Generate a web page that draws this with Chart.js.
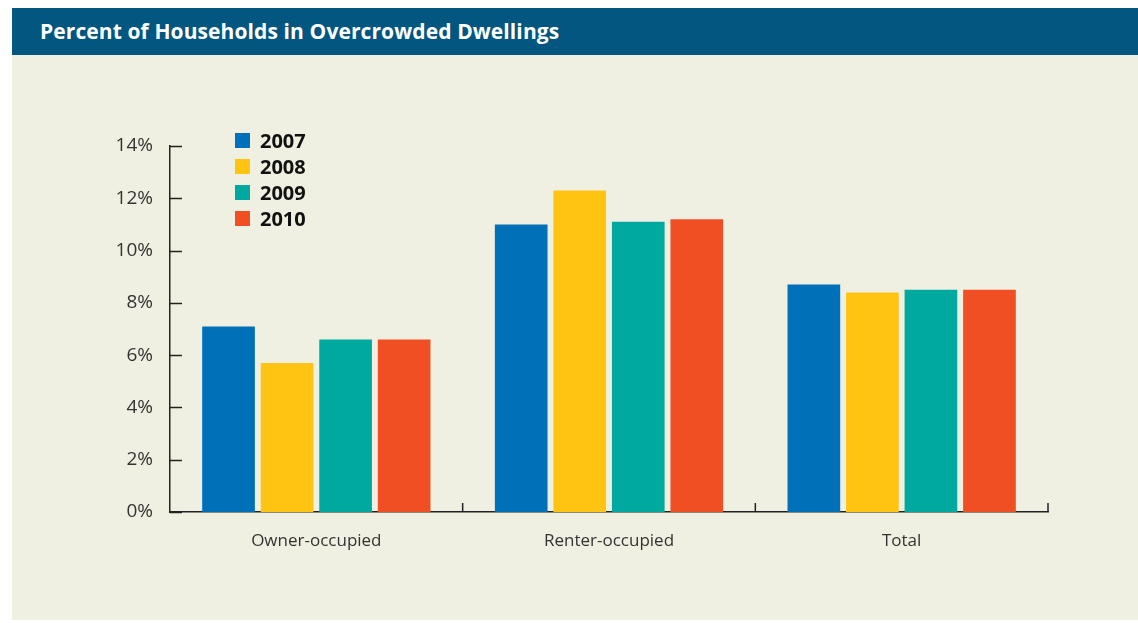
<!DOCTYPE html>
<html>
<head>
<meta charset="utf-8">
<script src="https://cdn.jsdelivr.net/npm/chart.js@4"></script>
<style>
  body { margin: 0; background: #fff; width: 1138px; height: 623px; overflow: hidden; position: relative; font-family: "Open Sans", sans-serif; }
  #titleBar { position: absolute; left: 12px; top: 8px; width: 1126px; height: 47px; background: #02567f; }
  #titleBar span { position: absolute; left: 28px; top: 9px; color: #fff; font-size: 21px; font-weight: 700; letter-spacing: 0.1px; }
  #panel { position: absolute; left: 12px; top: 55px; width: 1126px; height: 565px; background: #f0f0e2; }
  #wrap { position: absolute; left: 0; top: 0; width: 1138px; height: 623px; }
  #legend { position: absolute; left: 235px; top: 127px; }
  .item { height: 26px; display: flex; align-items: center; font-size: 20px; font-weight: 700; color: #111; }
  .box { width: 15px; height: 15px; margin-right: 10px; }
</style>
</head>
<body>
<div id="titleBar"><span>Percent of Households in Overcrowded Dwellings</span></div>
<div id="panel"></div>
<div id="wrap"><canvas id="chart"></canvas></div>
<div id="legend"></div>
<script>
// data
const categories = ['Owner-occupied', 'Renter-occupied', 'Total'];
const years = ['2007', '2008', '2009', '2010'];
const values2007 = [7.1, 11.0, 8.7];
const values2008 = [5.7, 12.3, 8.4];
const values2009 = [6.6, 11.1, 8.5];
const values2010 = [6.6, 11.2, 8.5];
const yTicks = [0, 2, 4, 6, 8, 10, 12, 14];
const colors = ['#0070b9', '#ffc312', '#00a99f', '#f04e23'];

const series = [values2007, values2008, values2009, values2010];

// draws the tick marks pointing into the plot, like the original
const innerTicks = {
  id: 'innerTicks',
  afterDraw(chart) {
    const ctx = chart.ctx;
    const x = chart.scales.x, y = chart.scales.y;
    ctx.save();
    ctx.strokeStyle = '#222';
    ctx.lineWidth = 1.5;
    ctx.beginPath();
    yTicks.forEach(v => {
      const py = Math.round(y.getPixelForValue(v)) + 0.5;
      ctx.moveTo(x.left, py);
      ctx.lineTo(x.left + 12, py);
    });
    for (let i = 1; i <= categories.length; i++) {
      const px = i < categories.length
        ? (x.getPixelForValue(i - 1) + x.getPixelForValue(i)) / 2
        : x.right;
      ctx.moveTo(px, y.bottom);
      ctx.lineTo(px, y.bottom - 9);
    }
    ctx.stroke();
    ctx.restore();
  }
};

const ctx = document.getElementById('chart').getContext('2d');
const chart = new Chart(ctx, {
  type: 'bar',
  data: {
    labels: categories,
    datasets: years.map((yr, i) => ({
      label: yr,
      data: series[i],
      backgroundColor: colors[i],
      borderWidth: 0,
      categoryPercentage: 0.8,
      barPercentage: 0.9
    }))
  },
  options: {
    responsive: true,
    maintainAspectRatio: false,
    animation: false,
    layout: { padding: { left: 90, right: 90, top: 146, bottom: 61 } },
    scales: {
      x: {
        grid: { display: false },
        border: { display: true, color: '#222', width: 1.5 },
        ticks: { color: '#333', font: { family: 'Open Sans', size: 17 }, padding: 11 },
        afterFit: s => { s.height = 50; }
      },
      y: {
        min: 0,
        max: 14,
        afterBuildTicks: s => { s.ticks = yTicks.map(v => ({ value: v })); },
        grid: { display: false },
        border: { display: true, color: '#222', width: 1.5 },
        ticks: {
          color: '#333',
          font: { family: 'Open Sans', size: 19 },
          padding: 9,
          callback: v => v + '%'
        },
        afterFit: s => { s.width = 80; }
      }
    },
    plugins: {
      legend: { display: false },
      tooltip: { enabled: false }
    }
  },
  plugins: [innerTicks]
});

// legend as plain html, built from the datasets
const legend = document.getElementById('legend');
chart.data.datasets.forEach(ds => {
  const item = document.createElement('div');
  item.className = 'item';
  item.innerHTML = '<div class="box" style="background:' + ds.backgroundColor + '"></div>' + ds.label;
  legend.appendChild(item);
});
</script>
</body>
</html>
